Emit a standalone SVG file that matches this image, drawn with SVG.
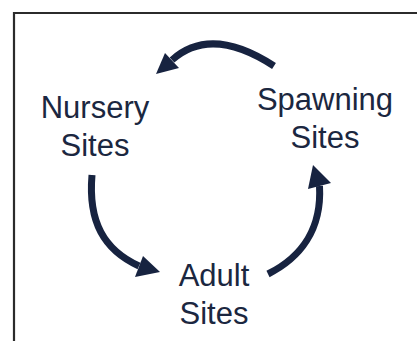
<svg xmlns="http://www.w3.org/2000/svg" width="417" height="341" viewBox="0 0 417 341">
<style>
.lbl{font-family:"Liberation Sans",Arial,sans-serif;font-size:31px;fill:#1b2740;text-anchor:middle}
.shaft{fill:none;stroke:#172340;stroke-width:7}
.head{fill:#172340}
</style>
<rect x="0" y="0" width="417" height="341" fill="#ffffff"/>
<path d="M14,345 V13 H420" fill="none" stroke="#2b2b2b" stroke-width="2.2"/>
<g id="nursery"><text class="lbl" x="95" y="118">Nursery</text><text class="lbl" x="95" y="156">Sites</text></g>
<g id="spawning"><text class="lbl" x="325" y="110">Spawning</text><text class="lbl" x="325" y="148">Sites</text></g>
<g id="adult"><text class="lbl" x="214" y="286">Adult</text><text class="lbl" x="214" y="324">Sites</text></g>
<g id="connectors">
<path class="shaft" d="M274,66 Q211,25 172,60"/>
<polygon class="head" points="156,74 165,53 179,68"/>
<path class="shaft" d="M92,175 C88,222 104,250 139,266"/>
<polygon class="head" points="160,272 143,256 135,277"/>
<path class="shaft" d="M268,274 C300,258 322,230 319.5,186"/>
<polygon class="head" points="313,165 308,189 331,183"/>
</g>
</svg>
